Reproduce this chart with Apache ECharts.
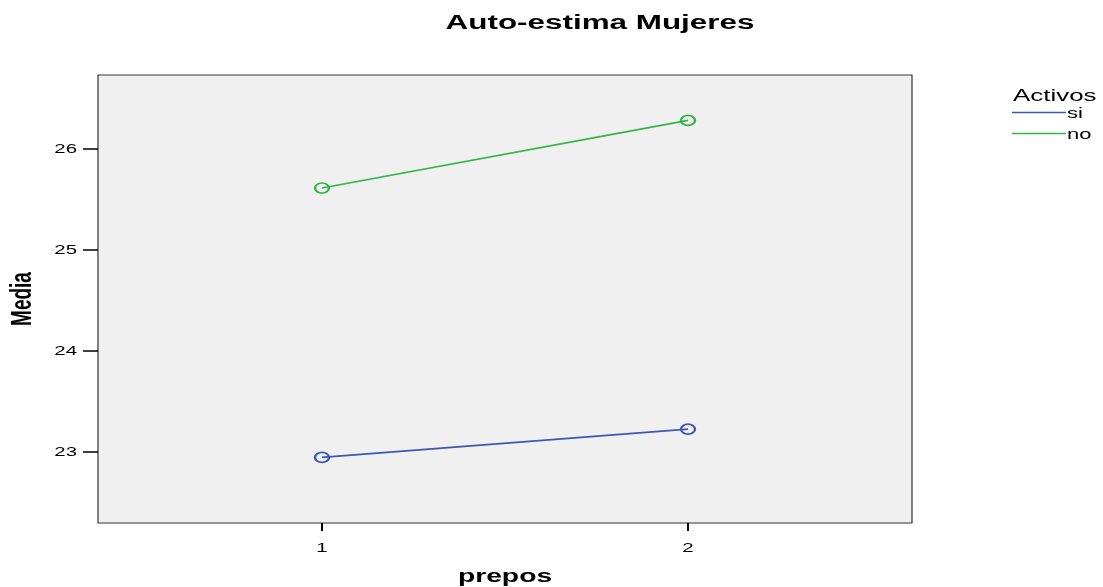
<!DOCTYPE html>
<html>
<head>
<meta charset="utf-8">
<script src="https://cdn.jsdelivr.net/npm/echarts@6/dist/echarts.min.js"></script>
<style>
  html, body { margin: 0; padding: 0; background: #fff; }
  #chart { width: 1103px; height: 587px; }
</style>
</head>
<body>
<div id="chart"></div>
<script>
// Mean self-esteem by measurement (pre / post), split by activity group
const categories = [1, 2];
const seriesNames = ['si', 'no'];
const valuesSi = [22.94, 23.22];
const valuesNo = [25.61, 26.28];
const yTicks = [23, 24, 25, 26];

const colors = { si: '#3b57b2', no: '#31b449' };
const font = 'Liberation Sans, Arial, sans-serif';
const wide = 1.57; // horizontal stretch of all lettering

const chart = echarts.init(document.getElementById('chart'));

function makeSeries(name, values) {
  return {
    name: name,
    type: 'line',
    data: categories.map((c, i) => [c, values[i]]),
    symbol: 'circle',
    symbolSize: [14, 10],
    showSymbol: true,
    lineStyle: { color: colors[name], width: 1.6 },
    itemStyle: { color: 'transparent', borderColor: colors[name], borderWidth: 2 },
    emphasis: { disabled: true },
    z: 3
  };
}

function label(text, x, y, size, opts) {
  opts = opts || {};
  return {
    type: 'text',
    x: x, y: y,
    rotation: opts.rotation || 0,
    scaleX: opts.rotation ? 1 : wide,
    scaleY: opts.rotation ? wide : 1,
    silent: true,
    style: {
      text: text,
      fontFamily: font,
      fontSize: size,
      fontWeight: opts.bold ? 'bold' : 'normal',
      fill: '#000',
      align: opts.align || 'left',
      verticalAlign: 'middle'
    }
  };
}

chart.setOption({
  animation: false,
  backgroundColor: '#ffffff',
  grid: {
    left: 98, right: 191, top: 75, bottom: 64,
    show: true, backgroundColor: '#f0f0f0', borderColor: '#333333', borderWidth: 1.2
  },
  xAxis: {
    type: 'value', min: 0.388, max: 2.612,
    axisLine: { show: false },
    axisTick: { show: true, customValues: categories, length: 8, lineStyle: { color: '#000', width: 2 } },
    axisLabel: { show: false },
    splitLine: { show: false }
  },
  yAxis: {
    type: 'value', min: 22.29, max: 26.73,
    axisLine: { show: false },
    axisTick: { show: true, customValues: yTicks, length: 15, lineStyle: { color: '#000', width: 1.5 } },
    axisLabel: { show: false },
    splitLine: { show: false }
  },
  series: [makeSeries('si', valuesSi), makeSeries('no', valuesNo)]
});

// Lettering placed through the axis scales
const texts = [];
texts.push(label('Auto-estima Mujeres', 600, 23, 20, { bold: true, align: 'center' }));
texts.push(label('prepos', 505, 577, 18, { bold: true, align: 'center' }));
texts.push(label('Media', 23, 299, 19, { bold: true, align: 'center', rotation: Math.PI / 2 }));

categories.forEach(c => {
  const p = chart.convertToPixel({ gridIndex: 0 }, [c, 22.29]);
  texts.push(label(String(c), p[0], 548, 13, { align: 'center' }));
});
yTicks.forEach(v => {
  const p = chart.convertToPixel({ gridIndex: 0 }, [0.388, v]);
  texts.push(label(String(v), 77, p[1] + 1, 13, { align: 'right' }));
});

// Legend
texts.push(label('Activos', 1013, 96, 16.5));
seriesNames.forEach((n, i) => {
  const y = 112.5 + i * 21;
  texts.push({
    type: 'line', silent: true,
    shape: { x1: 1012, y1: y, x2: 1066, y2: y },
    style: { stroke: colors[n], lineWidth: 1.6 }
  });
  texts.push(label(n, 1067, y + 2, 14));
});

chart.setOption({ graphic: texts });
</script>
</body>
</html>
